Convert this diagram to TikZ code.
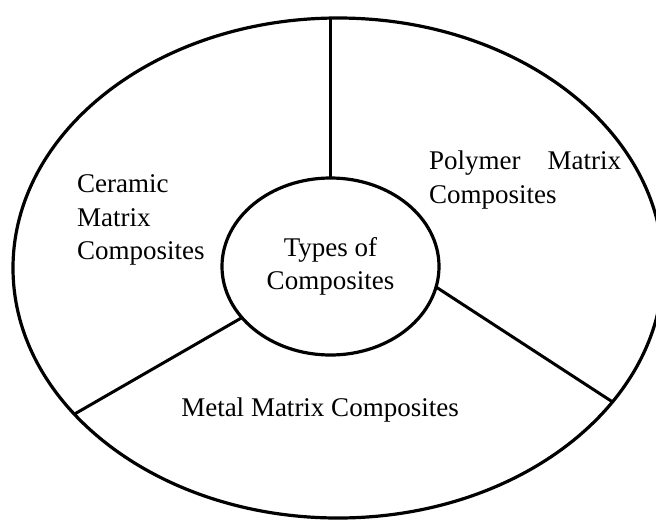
\documentclass[tikz,border=0pt]{standalone}
\usepackage{fontspec}
\setmainfont{Liberation Serif}
\usetikzlibrary{shapes.geometric}
\begin{document}
\begin{tikzpicture}[x=1pt,y=-1pt,
  ring/.style={draw=black, line width=3.2pt, ellipse, inner sep=0pt, outer sep=0pt},
  link/.style={draw=black, line width=3pt},
  lbl/.style={font=\fontsize{27}{33.5}\selectfont, inner sep=0pt, text=black}]
\useasboundingbox[fill=white] (0,0) rectangle (656,520);
\node[ring, minimum width=650pt, minimum height=500pt] (outer) at (338,268) {};
\node[ring, minimum width=217pt, minimum height=177pt, lbl, align=center] (inner) at (330.5,266.5) {Types of\\Composites};
\draw[link] (inner.north) -- (inner.north |- outer.north);
\draw[link] (inner.210.5) -- (outer.209.7);
\draw[link] (inner.349) -- (outer.334.2);
\node[lbl, anchor=west, align=left] (cmc) at (77,220) {Ceramic\\Matrix\\Composites};
\node[lbl, anchor=west, text width=192pt, align=left] (pmc) at (429,180) {\hbox to 192pt{Polymer\hfill Matrix}\\Composites};
\node[lbl] (mmc) at (320,410) {Metal Matrix Composites};
\end{tikzpicture}
\end{document}
